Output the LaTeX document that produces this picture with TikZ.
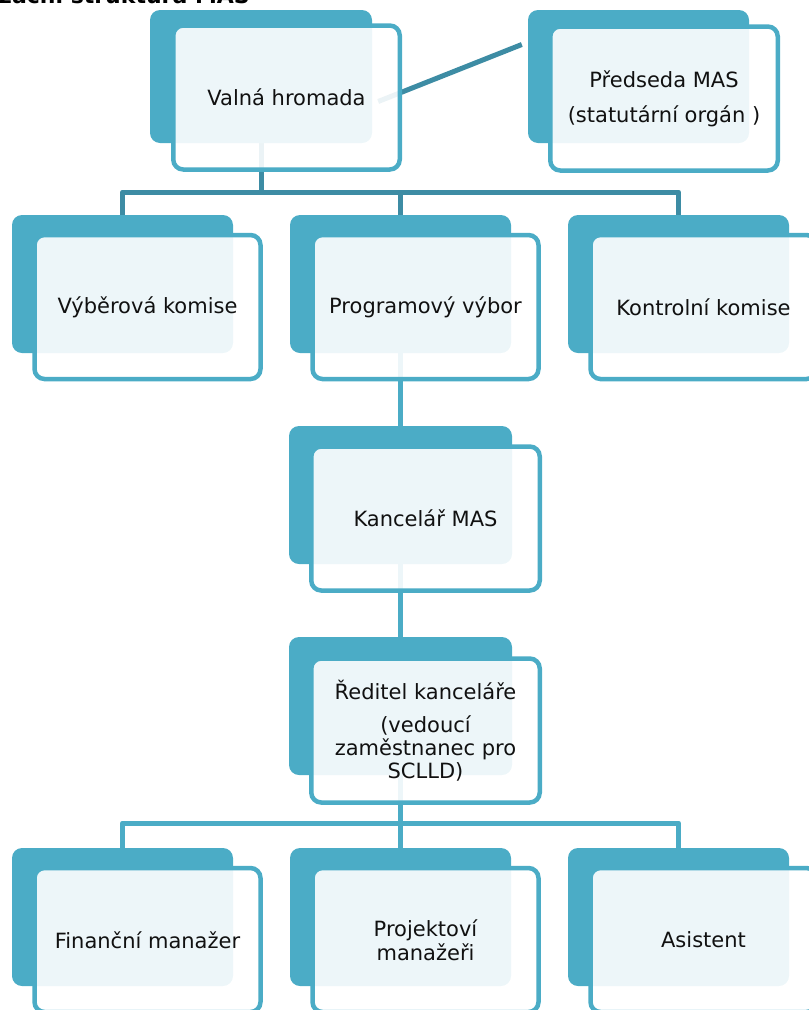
\documentclass[tikz,border=0pt]{standalone}
\usepackage{fontspec}
\setmainfont{DejaVu Sans}
\usetikzlibrary{calc}
\definecolor{acc}{HTML}{4BACC6}
\definecolor{dk}{HTML}{3D8CA4}
\definecolor{ink}{HTML}{111111}
\pgfdeclarelayer{bg}
\pgfsetlayers{bg,main}
\begin{document}
\begin{tikzpicture}[x=1pt,y=-1pt,
  backbox/.style={rectangle, fill=acc, draw=none, rounded corners=10pt, inner sep=0pt,
    minimum width=221pt, minimum height=138pt},
  frontbox/.style={rectangle, draw=acc, line width=4.5pt, fill=white, fill opacity=0.9,
    text opacity=1, rounded corners=10pt, inner sep=0pt, minimum width=226pt,
    minimum height=144pt, align=center, text=ink,
    font=\fontsize{21}{24}\selectfont},
  conndark/.style={draw=dk, line width=5pt, line join=round},
  connlight/.style={draw=acc, line width=5pt, line join=round},
  titletext/.style={font=\bfseries\fontsize{22}{26}\selectfont, text=black, inner sep=0pt}
]
\useasboundingbox (0,0) rectangle (809,1010);

% title (cut off at top)
\node[titletext, anchor=base east] (title) at (250,3) {Organizační struktura MAS};

% back boxes
\node[backbox, minimum width=222pt, minimum height=133pt] (vhB) at (261,76.5) {};
\node[backbox, minimum height=133pt] (pmB) at (638.5,76.5) {};
\node[backbox] (vbB) at (122.5,284) {};
\node[backbox] (pvB) at (400.5,284) {};
\node[backbox] (kkB) at (678.5,284) {};
\node[backbox, minimum width=223pt] (kmB) at (400.5,495) {};
\node[backbox, minimum width=223pt] (rkB) at (400.5,706) {};
\node[backbox] (fmB) at (122.5,917) {};
\node[backbox] (pjB) at (400.5,917) {};
\node[backbox] (asB) at (678.5,917) {};

% front boxes with text
\node[frontbox, minimum width=226.5pt] (vhF) at (286.5,97.5) {Valná hromada};
\node[frontbox, minimum width=227.5pt] (pmF) at (664,98.5) {Předseda MAS\\[11pt](statutární orgán )};
\node[frontbox] (vbF) at (147.5,307) {Výběrová komise};
\node[frontbox] (pvF) at (425.5,307) {Programový výbor};
\node[frontbox] (kkF) at (703.5,307) {Kontrolní komise};
\node[frontbox, minimum width=228.5pt] (kmF) at (425.5,518.5) {Kancelář MAS};
\node[frontbox, minimum width=228.5pt] (rkF) at (425.5,730.5) {Ředitel kanceláře\\[9pt](vedoucí\\[-1pt]zaměstnanec pro\\[-1pt]SCLLD)};
\node[frontbox] (fmF) at (147.5,940) {Finanční manažer};
\node[frontbox] (pjF) at (425.5,940) {Projektoví\\manažeři};
\node[frontbox] (asF) at (703.5,940) {Asistent};

\coordinate (barA) at (0,192);
\coordinate (barB) at (0,823);

% connectors (behind boxes)
\begin{pgfonlayer}{bg}
\draw[conndark] ([xshift=6pt,yshift=-25pt]vhB.east) -- ([xshift=-6pt,yshift=32pt]pmB.west);
\draw[conndark] (vhB.south) -- (vhB.south |- barA);
\draw[conndark] (vbB.north) -- (vbB.north |- barA) -- (kkB.north |- barA) -- (kkB.north);
\draw[conndark] (pvB.north) -- (pvB.north |- barA);
\draw[connlight] (pvB.south) -- (kmB.north);
\draw[connlight] (kmB.south) -- (rkB.north);
\draw[connlight] (rkB.south) -- (rkB.south |- barB);
\draw[connlight] (fmB.north) -- (fmB.north |- barB) -- (asB.north |- barB) -- (asB.north);
\draw[connlight] (pjB.north) -- (pjB.north |- barB);
\end{pgfonlayer}
\end{tikzpicture}
\end{document}
